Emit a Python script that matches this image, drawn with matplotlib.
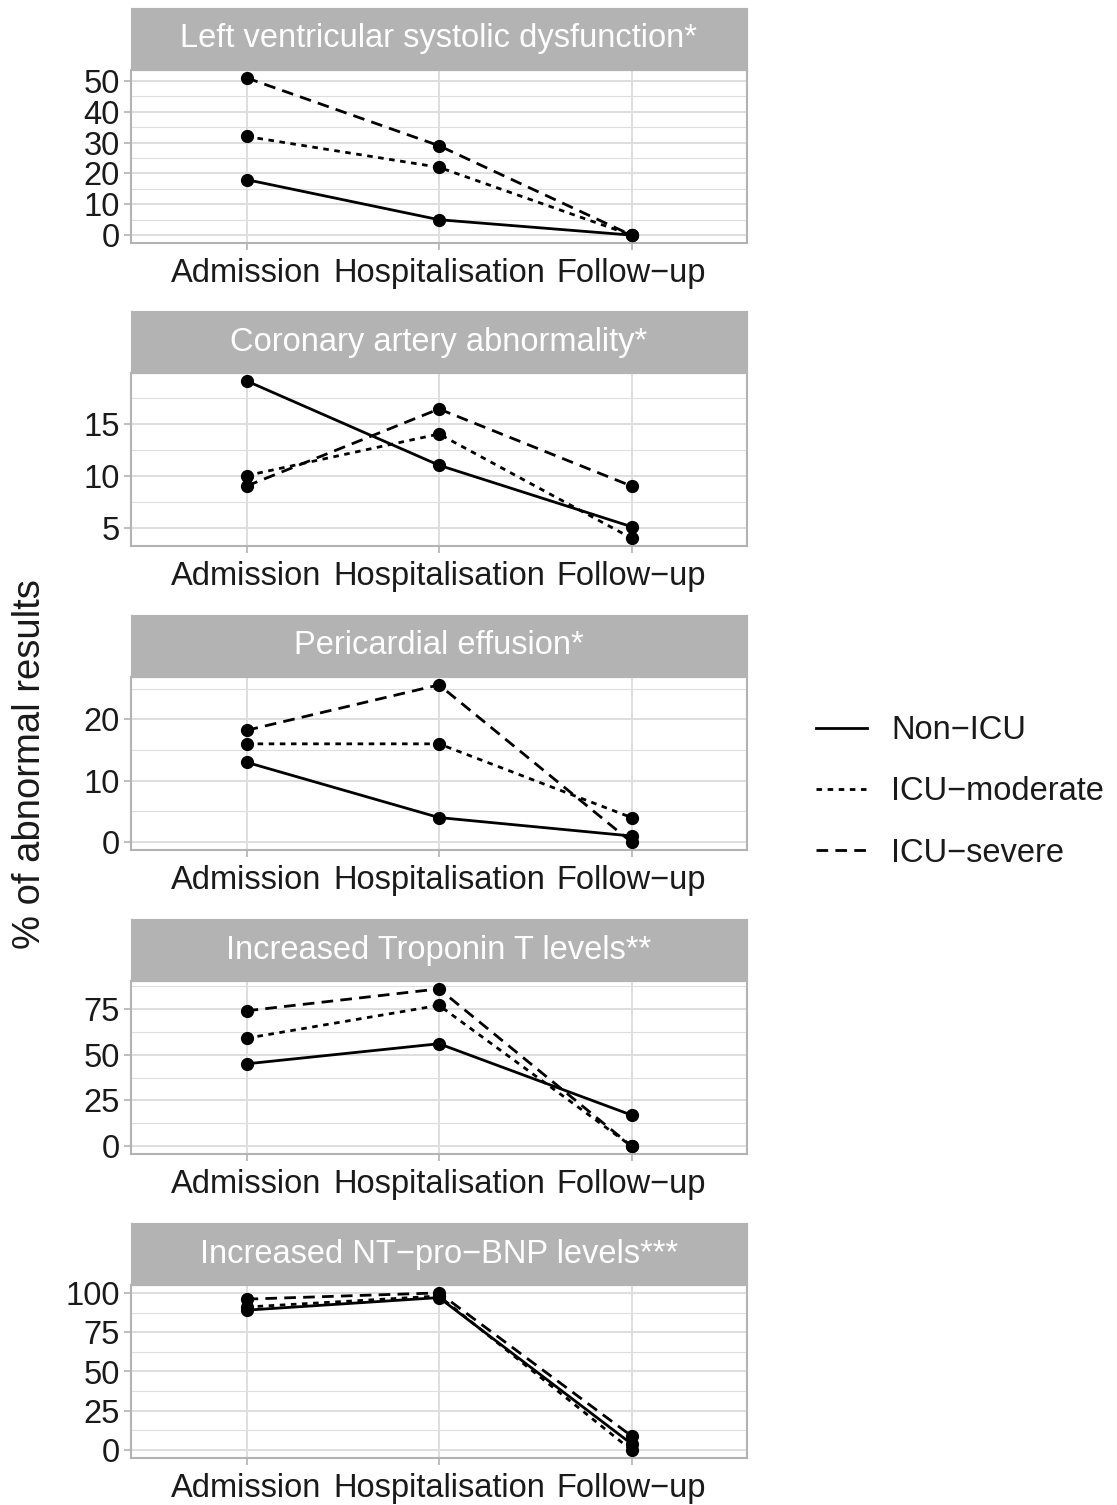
import matplotlib
matplotlib.use("Agg")
import matplotlib.pyplot as plt
from matplotlib.lines import Line2D
import numpy as np

plt.rcParams['font.family'] = ['Liberation Sans', 'DejaVu Sans']

timepoints = ["Admission", "Hospitalisation", "Follow\u2212up"]
groups = ["Non\u2212ICU", "ICU\u2212moderate", "ICU\u2212severe"]

panel_titles = [
    "Left ventricular systolic dysfunction*",
    "Coronary artery abnormality*",
    "Pericardial effusion*",
    "Increased Troponin T levels**",
    "Increased NT\u2212pro\u2212BNP levels***",
]

# values per panel: [Non-ICU, ICU-moderate, ICU-severe] x timepoints
lv_non = [18, 5, 0]
lv_mod = [32, 22, 0]
lv_sev = [51, 29, 0]

ca_non = [19.1, 11, 5.1]
ca_mod = [10, 14, 4]
ca_sev = [9, 16.4, 9]

pe_non = [13, 4, 1]
pe_mod = [16, 16, 4]
pe_sev = [18.2, 25.6, 0]

tn_non = [45, 56, 17]
tn_mod = [59, 77, 0]
tn_sev = [74, 86, 0]

bnp_non = [89, 97, 4]
bnp_mod = [91, 98, 0]
bnp_sev = [96, 100, 9]

panel_data = [
    (lv_non, lv_mod, lv_sev),
    (ca_non, ca_mod, ca_sev),
    (pe_non, pe_mod, pe_sev),
    (tn_non, tn_mod, tn_sev),
    (bnp_non, bnp_mod, bnp_sev),
]

lv_ticks = [0, 10, 20, 30, 40, 50]
ca_ticks = [5, 10, 15]
pe_ticks = [0, 10, 20]
tn_ticks = [0, 25, 50, 75]
bnp_ticks = [0, 25, 50, 75, 100]
panel_ticks = [lv_ticks, ca_ticks, pe_ticks, tn_ticks, bnp_ticks]

W, H = 1117, 1505
fig = plt.figure(figsize=(W / 100, H / 100), dpi=100)

left_px, right_px = 131, 747
plot_tops = [70, 373, 677, 981, 1285]
plot_h = 173
strip_h = 62

styles = [
    dict(linestyle='-'),
    dict(linestyle=(0, (2.0, 2.0))),
    dict(linestyle=(0, (4.2, 2.6))),
]

grid_col = '#DEDEDE'
border_col = '#B3B3B3'
text_col = '#1A1A1A'
fs = 23.5

x = np.arange(len(timepoints))

for i in range(5):
    top = plot_tops[i]
    ax = fig.add_axes([left_px / W, 1 - (top + plot_h) / H,
                       (right_px - left_px) / W, plot_h / H])
    for series, st in zip(panel_data[i], styles):
        ax.plot(x, series, color='black', lw=2.0, marker='o', markersize=8.5,
                zorder=3, **st)
    ax.margins(y=0.05)
    ax.set_xlim(-0.6, 2.6)
    ticks = panel_ticks[i]
    ax.set_yticks(ticks)
    ax.set_yticklabels([str(t) for t in ticks])
    step = ticks[1] - ticks[0]
    ylo, yhi = ax.get_ylim()
    minors = np.arange(ticks[0] - step / 2, yhi + step, step)
    minors = [m for m in minors if ylo <= m <= yhi]
    ax.set_yticks(minors, minor=True)
    ax.set_ylim(ylo, yhi)
    ax.set_xticks(x)
    ax.set_xticklabels(timepoints)
    ax.grid(True, which='major', color=grid_col, lw=1.4, zorder=0)
    ax.grid(True, which='minor', axis='y', color=grid_col, lw=0.8, zorder=0)
    ax.set_axisbelow(True)
    ax.tick_params(which='major', length=5, width=1.2, color=border_col,
                   labelsize=fs, labelcolor=text_col, pad=3)
    ax.tick_params(axis='x', which='major', pad=6)
    ax.tick_params(which='minor', length=0)
    for sp in ax.spines.values():
        sp.set_color(border_col)
        sp.set_linewidth(1.5)

    sax = fig.add_axes([left_px / W, 1 - top / H,
                        (right_px - left_px) / W, strip_h / H])
    sax.set_facecolor('#B3B3B3')
    sax.set_xticks([])
    sax.set_yticks([])
    for sp in sax.spines.values():
        sp.set_color('#B3B3B3')
    sax.text(0.5, 0.5, panel_titles[i], color='white', fontsize=fs,
             ha='center', va='center', transform=sax.transAxes)

fig.text(30 / W, 1 - 764 / H, "% of abnormal results", rotation=90,
         ha='center', va='center', fontsize=27.5, color=text_col)

handles = [Line2D([], [], color='black', lw=2.0, **st) for st in styles]
fig.legend(handles, groups, loc='center left',
           bbox_to_anchor=(787 / W, 1 - 792 / H), frameon=False,
           fontsize=fs, handlelength=1.55, handletextpad=0.75,
           labelspacing=0.93, labelcolor=text_col)

fig.savefig("out.png", dpi=100)
